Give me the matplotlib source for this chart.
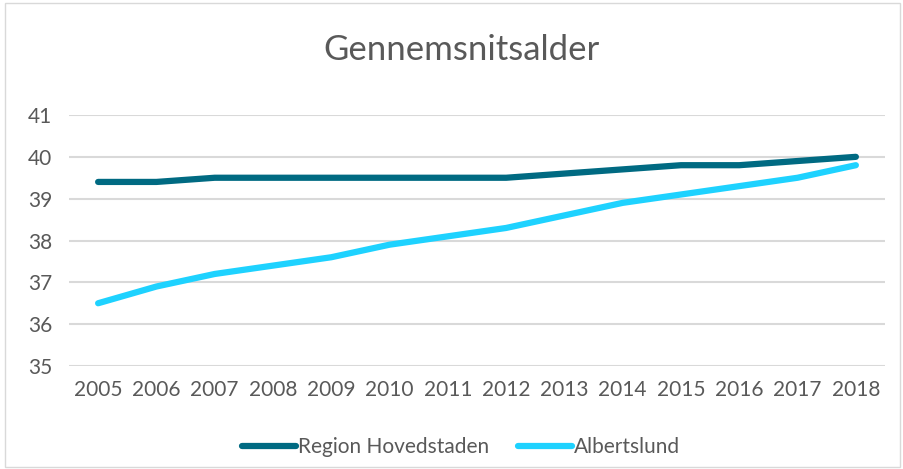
import matplotlib
matplotlib.use("Agg")
import matplotlib.pyplot as plt
from matplotlib.patches import Rectangle

# Data
years = ["2005", "2006", "2007", "2008", "2009", "2010", "2011",
         "2012", "2013", "2014", "2015", "2016", "2017", "2018"]
region_hovedstaden = [39.4, 39.4, 39.5, 39.5, 39.5, 39.5, 39.5,
                      39.5, 39.6, 39.7, 39.8, 39.8, 39.9, 40.0]
albertslund = [36.5, 36.9, 37.2, 37.4, 37.6, 37.9, 38.1,
               38.3, 38.6, 38.9, 39.1, 39.3, 39.5, 39.8]
yticks = [35, 36, 37, 38, 39, 40, 41]

TEXT = "#595959"
plt.rcParams["font.family"] = ["Lato", "DejaVu Sans"]

fig = plt.figure(figsize=(9.04, 4.69), dpi=100)
ax = fig.add_axes([0.0763, 0.2196, 0.9027, 0.5352])

x = list(range(len(years)))
ax.plot(x, region_hovedstaden, color="#006a82", lw=4.5,
        solid_capstyle="round", label="Region Hovedstaden")
ax.plot(x, albertslund, color="#1ed2ff", lw=4.5,
        solid_capstyle="round", label="Albertslund")

ax.set_xlim(-0.5, len(years) - 0.5)
ax.set_ylim(35, 41)
ax.set_yticks(yticks)
ax.set_xticks(x)
ax.set_xticklabels(years)
ax.grid(axis="y", color="#d9d9d9", lw=1.5)
ax.set_axisbelow(True)
for s in ax.spines.values():
    s.set_visible(False)
ax.tick_params(length=0, labelsize=15, colors=TEXT, pad=10)
ax.tick_params(axis="y", pad=12)

fig.text(0.51, 0.893, "Gennemsnitsalder", ha="center", va="center",
         fontsize=25, color=TEXT)

leg = fig.legend(loc="center", bbox_to_anchor=(0.51, 0.047), ncol=2,
                 frameon=False, fontsize=15, handlelength=2.6,
                 handletextpad=0.1, columnspacing=1.4)
for t in leg.get_texts():
    t.set_color(TEXT)

# light border around the chart
fig.patches.append(Rectangle((0.006, 0.004), 0.99, 0.99, transform=fig.transFigure,
                             fill=False, edgecolor="#d9d9d9", lw=1))

fig.savefig("out.png", dpi=100)
